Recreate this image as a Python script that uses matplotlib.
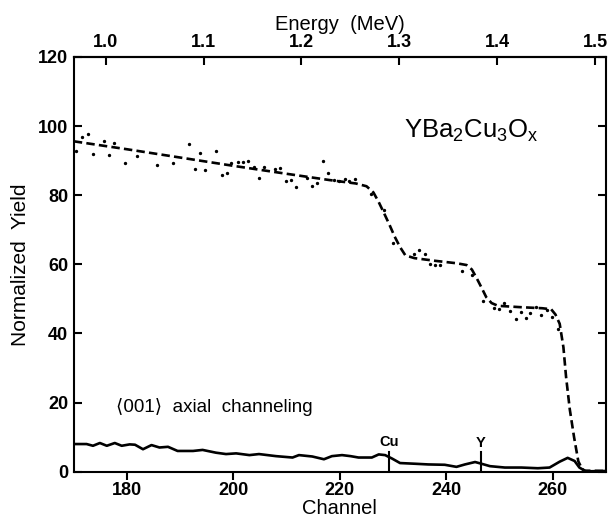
import matplotlib

matplotlib.use("Agg")
import matplotlib.pyplot as plt

plt.rcParams["font.family"] = ["Liberation Sans", "DejaVu Sans"]
plt.rcParams["mathtext.fontset"] = "custom"
plt.rcParams["mathtext.rm"] = "Liberation Sans"
plt.rcParams["mathtext.it"] = "Liberation Sans"

# random (aligned) spectrum: simulated curve, dashed
random_ch = [170, 180, 190, 200, 210, 218, 223, 225, 226.3, 227.3, 228.3, 229.3,
             230.3, 231.3, 232.3, 234, 238, 242, 243.8, 244.8, 245.7, 246.6, 247.5,
             248.5, 249.7, 254, 258, 259.7, 260.5, 261.3, 262, 262.5, 263.2, 264,
             264.8, 265.5, 266, 270]
random_fit = [95.6, 93.3, 90.9, 88.5, 86.2, 84.4, 83.4, 82.6, 80.8, 78.0, 74.8, 71.5,
              68.0, 65.0, 62.6, 61.8, 61.0, 60.3, 59.8, 58.5, 56.0, 53.3, 50.5,
              48.8, 48.0, 47.6, 47.3, 47.0, 45.5, 42.8, 36.0, 27.4, 18.0, 10.0,
              3.0, 0.8, 0.3, 0.2]

# random spectrum: measured points
meas_ch = [170.5, 171.6, 172.6, 173.6, 175.6, 176.6, 177.6, 179.7, 181.8, 185.7,
           188.7, 191.6, 192.7, 193.7, 194.7, 196.7, 197.8, 198.7, 199.6, 200.8,
           201.7, 202.8, 203.8, 204.8, 205.8, 207.8, 208.8, 209.8, 210.8, 211.8,
           213.9, 214.8, 215.7, 216.8, 217.8, 218.9, 219.8, 220.9, 221.8, 222.8,
           225.9, 228.2, 230.0, 234.0, 234.9, 235.9, 237.0, 237.9, 238.8, 242.9,
           244.9, 246.9, 248.9, 249.9, 250.8, 251.9, 253.0, 254.0, 254.9, 255.8,
           256.9, 257.8, 258.9, 259.8, 260.9]
meas_yield = [92.9, 96.8, 97.7, 91.9, 95.6, 91.6, 95.1, 89.3, 91.3, 88.7,
              89.3, 94.8, 87.7, 92.2, 87.4, 92.9, 85.8, 86.5, 89.2, 89.5,
              89.5, 90.0, 88.2, 85.0, 88.1, 87.6, 87.9, 84.1, 84.5, 82.3,
              85.0, 82.6, 83.6, 89.8, 86.5, 84.5, 84.1, 84.8, 84.1, 84.8,
              80.3, 75.6, 66.3, 62.9, 64.1, 62.9, 60.2, 59.9, 59.9, 58.1,
              57.0, 49.5, 47.4, 47.1, 48.7, 46.6, 44.2, 46.1, 44.5, 45.8,
              47.8, 45.2, 46.8, 44.7, 41.3]

# <001> axial channeling spectrum
chan_ch = [170, 172.4, 173.6, 174.9, 176.2, 177.7, 179.0, 180.5, 181.5, 183.0,
           184.6, 186.1, 187.7, 189.5, 192.4, 194.2, 196.7, 198.6, 200.5, 203.0,
           204.8, 208.0, 211.1, 212.3, 214.8, 217.0, 218.5, 220.4, 222.0, 223.5,
           226.0, 227.3, 228.5, 229.8, 231.3, 234.1, 236.6, 239.7, 241.9, 243.5,
           245.4, 246.6, 248.2, 251.0, 254.1, 257.2, 259.4, 261.3, 262.8, 264.1,
           265.0, 266.2, 270]
chan_yield = [8.0, 8.0, 7.5, 8.3, 7.5, 8.3, 7.5, 7.9, 7.8, 6.5,
              7.7, 7.0, 7.2, 6.0, 6.0, 6.3, 5.5, 5.1, 5.3, 4.8,
              5.1, 4.5, 4.1, 4.8, 4.4, 3.6, 4.5, 4.8, 4.5, 4.1,
              4.1, 5.0, 4.8, 3.8, 2.5, 2.3, 2.1, 2.0, 1.4, 2.1,
              2.8, 2.3, 1.6, 1.2, 1.2, 1.0, 1.2, 2.9, 4.0, 3.1,
              1.2, 0.1, 0.2]

# surface edge markers
edge_labels = ["Cu", "Y"]
edge_ch = [229.2, 246.5]
edge_top = [5.8, 5.6]

energy_ticks = [1.0, 1.1, 1.2, 1.3, 1.4, 1.5]
CH0, KEV_PER_CH = 176.0, 5.438  # channel at 1.0 MeV, energy per channel


def ch2e(ch):
    return 1.0 + (ch - CH0) * KEV_PER_CH / 1000.0


def e2ch(e):
    return CH0 + (e - 1.0) * 1000.0 / KEV_PER_CH


fig = plt.figure(figsize=(6.11, 5.20), dpi=100)
ax = fig.add_axes([0.1208, 0.0929, 0.8710, 0.7975])

ax.plot(random_ch, random_fit, color="black", lw=1.9, ls=(0, (3.2, 1.6)))
ax.plot(meas_ch, meas_yield, ls="none", marker="o", ms=1.4, color="black")
ax.plot(chan_ch, chan_yield, color="black", lw=1.9)

for lab, c, top in zip(edge_labels, edge_ch, edge_top):
    ax.plot([c, c], [0, top], color="black", lw=1.5)
    ax.text(c, top + 0.8, lab, ha="center", va="bottom", fontsize=10.5, fontweight="bold")

ax.text(232, 98.5, r"YBa$_2$Cu$_3$O$_\mathrm{x}$", fontsize=18.5, va="center", ha="left")
ax.text(178, 18.6, "\u27e8001\u27e9  axial  channeling", fontsize=13.5, va="center", ha="left")

ax.set_xlim(170, 270)
ax.set_ylim(0, 120)
ax.set_xticks([180, 200, 220, 240, 260])
ax.set_yticks([0, 20, 40, 60, 80, 100, 120])
ax.set_xlabel("Channel", fontsize=14.5, labelpad=0)
ax.set_ylabel("Normalized  Yield", fontsize=15, labelpad=6)

for spine in ax.spines.values():
    spine.set_linewidth(1.5)
ax.tick_params(axis="y", which="both", direction="in", left=True, right=True,
               length=5.5, width=1.5, labelsize=13, pad=4)
ax.tick_params(axis="x", direction="out", length=5.5, width=1.5, labelsize=13, pad=2)
for lbl in ax.get_xticklabels() + ax.get_yticklabels():
    lbl.set_fontweight("bold")

top = ax.secondary_xaxis("top", functions=(ch2e, e2ch))
top.set_xticks(energy_ticks)
top.set_xticklabels([f"{e:.1f}" for e in energy_ticks], fontweight="bold")
top.tick_params(direction="in", length=5.5, width=1.5, labelsize=13, pad=4)
top.spines["top"].set_linewidth(1.5)
top.set_xlabel("Energy  (MeV)", fontsize=14.5, labelpad=3)

fig.savefig("out.png", dpi=100)
